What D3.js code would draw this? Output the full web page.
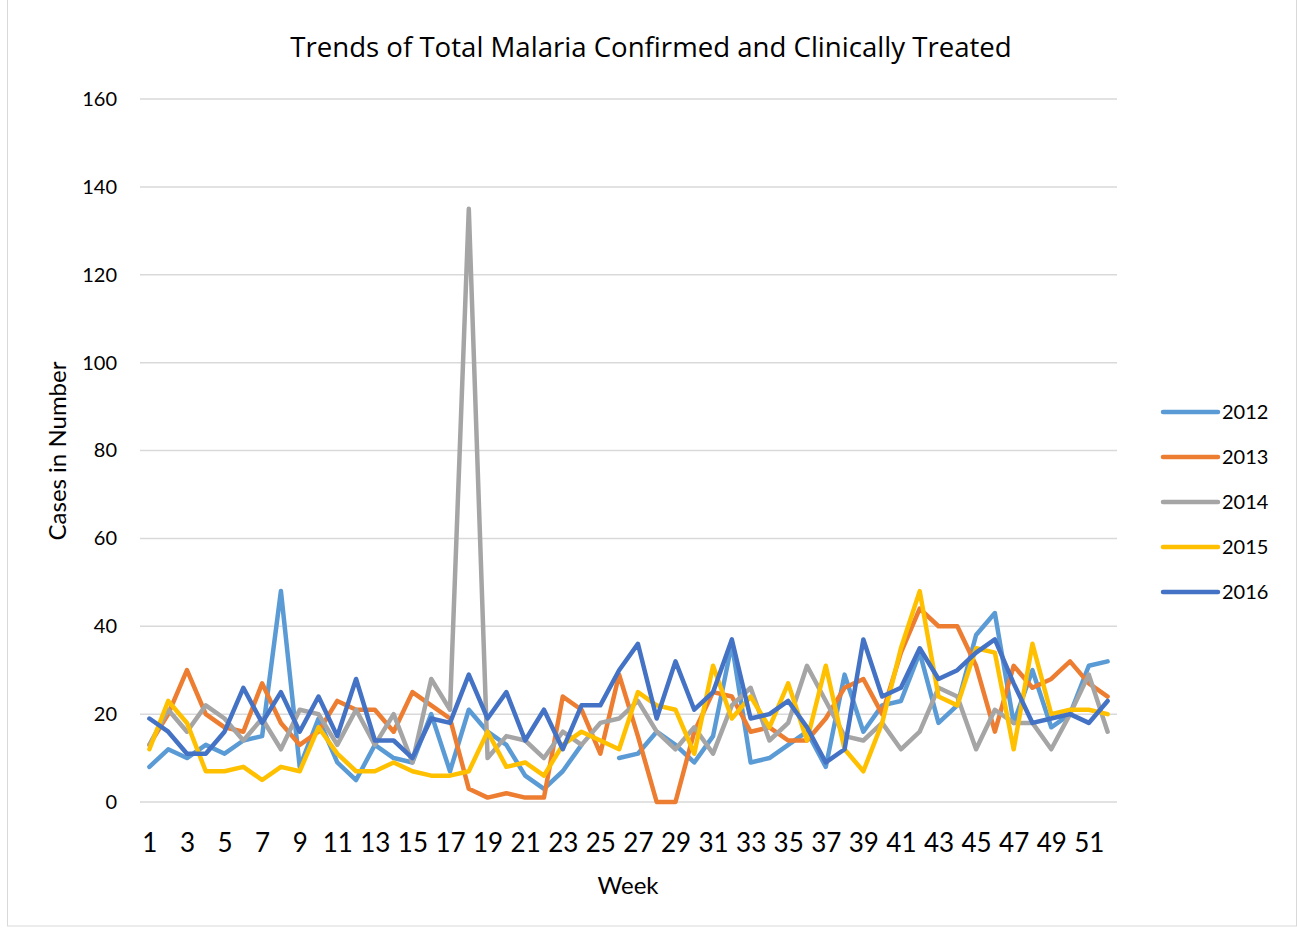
<!DOCTYPE html>
<html>
<head>
<meta charset="utf-8">
<script src="https://cdn.jsdelivr.net/npm/d3@7"></script>
<style>
  body { margin: 0; background: #fff; }
  text { font-family: Lato, 'Open Sans', sans-serif; fill: #000; }
</style>
</head>
<body>
<div id="chart"></div>
<script>
const weeks = d3.range(1, 53)
const years = ['2012', '2013', '2014', '2015', '2016']
const yearColors = ['#5B9BD5', '#ED7D31', '#A5A5A5', '#FFC000', '#4472C4']

const cases2012 = [8, 12, 10, 13, 11, 14, 15, 48, 8, 19, 9, 5, 13, 10, 9, 20, 7, 21, 16, 13, 6, 3, 7, 13, null, 10, 11, 16, 13, 9, 15, 36, 9, 10, 13, 16, 8, 29, 16, 22, 23, 34, 18, 22, 38, 43, 18, 30, 17, 20, 31, 32]
const cases2013 = [13, 20, 30, 20, 17, 16, 27, 18, 13, 16, 23, 21, 21, 16, 25, 22, 19, 3, 1, 2, 1, 1, 24, 21, 11, 29, 15, 0, 0, 16, 25, 24, 16, 17, 14, 14, 19, 26, 28, 20, 34, 44, 40, 40, 31, 16, 31, 26, 28, 32, 27, 24]
const cases2014 = [13, 21, 16, 22, 19, 14, 19, 12, 21, 20, 13, 21, 13, 20, 9, 28, 21, 135, 10, 15, 14, 10, 16, 13, 18, 19, 23, 16, 12, 17, 11, 22, 26, 14, 18, 31, 23, 15, 14, 18, 12, 16, 26, 24, 12, 21, 18, 18, 12, 20, 29, 16]
const cases2015 = [12, 23, 18, 7, 7, 8, 5, 8, 7, 17, 11, 7, 7, 9, 7, 6, 6, 7, 16, 8, 9, 6, 13, 16, 14, 12, 25, 22, 21, 11, 31, 19, 24, 17, 27, 14, 31, 12, 7, 18, 35, 48, 24, 22, 35, 34, 12, 36, 20, 21, 21, 20]
const cases2016 = [19, 16, 11, 11, 16, 26, 18, 25, 16, 24, 15, 28, 14, 14, 10, 19, 18, 29, 19, 25, 14, 21, 12, 22, 22, 30, 36, 19, 32, 21, 25, 37, 19, 20, 23, 17, 9, 12, 37, 24, 26, 35, 28, 30, 34, 37, 27, 18, 19, 20, 18, 23]
const yTicks = [0, 20, 40, 60, 80, 100, 120, 140, 160]

const seriesValues = [cases2012, cases2013, cases2014, cases2015, cases2016]

const width = 1297
const height = 930
const plot = { left: 140, right: 1117, top: 99, bottom: 802 }

const svg = d3.select('#chart').append('svg')
  .attr('width', width)
  .attr('height', height)

// outer chart border
svg.append('rect')
  .attr('x', 7.5)
  .attr('y', -1)
  .attr('width', 1289)
  .attr('height', 927)
  .attr('fill', 'none')
  .attr('stroke', '#d9d9d9')
  .attr('stroke-width', 1)

const xScale = d3.scalePoint()
  .domain(weeks)
  .range([plot.left, plot.right])
  .padding(0.5)

const yScale = d3.scaleLinear()
  .domain([0, 160])
  .range([plot.bottom, plot.top])

// gridlines
svg.append('g')
  .selectAll('line')
  .data(yTicks)
  .join('line')
  .attr('x1', plot.left)
  .attr('x2', plot.right)
  .attr('y1', (d) => yScale(d))
  .attr('y2', (d) => yScale(d))
  .attr('stroke', '#d9d9d9')
  .attr('stroke-width', 1.5)

// y axis labels
const yAxis = svg.append('g')
  .attr('transform', `translate(${plot.left}, 0)`)
  .call(d3.axisLeft(yScale).tickValues(yTicks).tickSize(0).tickPadding(23))
yAxis.select('.domain').remove()
yAxis.selectAll('text')
  .style('font-size', '20px')
  .style('font-family', 'Lato, sans-serif')
  .attr('fill', '#000')

// x axis labels (every other week)
const xAxis = svg.append('g')
  .attr('transform', `translate(0, ${plot.bottom})`)
  .call(d3.axisBottom(xScale).tickValues(weeks.filter((w) => w % 2 === 1)).tickSize(0).tickPadding(32))
xAxis.select('.domain').remove()
xAxis.selectAll('text')
  .style('font-size', '26px')
  .style('font-family', 'Lato, sans-serif')
  .attr('fill', '#000')

// lines
const line = d3.line()
  .defined((d) => d != null)
  .x((d, i) => xScale(weeks[i]))
  .y((d) => yScale(d))

svg.append('g')
  .selectAll('path')
  .data(seriesValues)
  .join('path')
  .attr('d', line)
  .attr('fill', 'none')
  .attr('stroke', (d, i) => yearColors[i])
  .attr('stroke-width', 4.5)
  .attr('stroke-linejoin', 'round')
  .attr('stroke-linecap', 'round')

// title
svg.append('text')
  .attr('x', 651)
  .attr('y', 57)
  .attr('text-anchor', 'middle')
  .style('font-family', "'Open Sans', sans-serif")
  .style('font-size', '27.6px')
  .text('Trends of Total Malaria Confirmed and Clinically Treated')

// axis titles
svg.append('text')
  .attr('x', 628)
  .attr('y', 894)
  .attr('text-anchor', 'middle')
  .style('font-size', '24px')
  .text('Week')

svg.append('text')
  .attr('transform', 'translate(66, 451) rotate(-90)')
  .attr('text-anchor', 'middle')
  .style('font-size', '24px')
  .text('Cases in Number')

// legend
const legend = svg.append('g')
  .selectAll('g')
  .data(years)
  .join('g')
  .attr('transform', (d, i) => `translate(1163, ${412 + i * 45})`)

legend.append('line')
  .attr('x1', 0)
  .attr('x2', 55)
  .attr('stroke', (d, i) => yearColors[i])
  .attr('stroke-width', 4.5)
  .attr('stroke-linecap', 'round')

legend.append('text')
  .attr('x', 59)
  .attr('dy', '0.35em')
  .style('font-size', '20px')
  .text((d) => d)
</script>
</body>
</html>
